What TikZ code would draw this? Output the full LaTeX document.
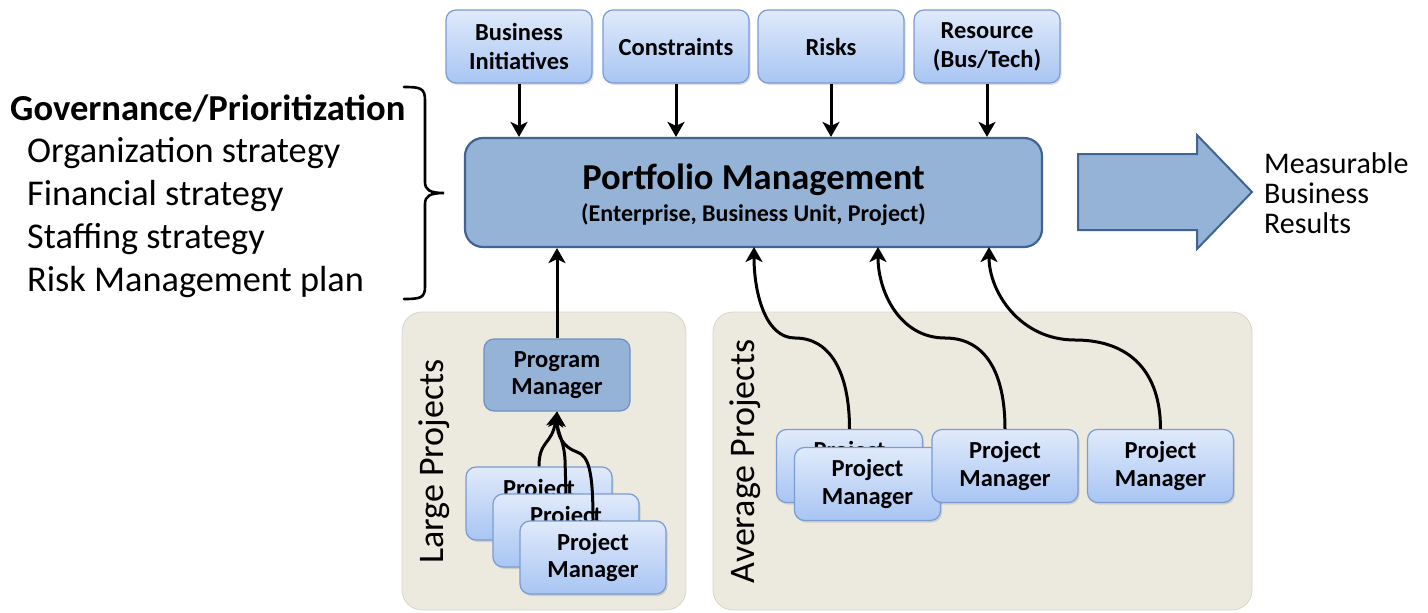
\documentclass[tikz,border=0pt]{standalone}
\usepackage{fontspec}
\setmainfont{Carlito}
\usetikzlibrary{arrows.meta,shadows}
\definecolor{pmfill}{HTML}{95B3D7}
\definecolor{pmborder}{HTML}{3F6393}
\definecolor{progborder}{HTML}{6F90C0}
\definecolor{boxtop}{HTML}{E0EAFB}
\definecolor{boxbot}{HTML}{A8C5F3}
\definecolor{boxborder}{HTML}{7A9CD3}
\definecolor{panel}{HTML}{ECE9DF}
\definecolor{panelborder}{HTML}{D8D5CC}
\begin{document}
\begin{tikzpicture}[x=1pt,y=-1pt,
  lightbox/.style={draw=boxborder, line width=1.2pt, rounded corners=10pt,
    top color=boxtop, bottom color=boxbot, minimum width=146pt, minimum height=73pt,
    align=center, font=\fontsize{24.5}{27.5}\selectfont\bfseries, inner sep=0pt,
    drop shadow={opacity=0.25, shadow xshift=1.5pt, shadow yshift=-2pt}},
  topbox/.style={lightbox, font=\fontsize{24.5}{29}\selectfont\bfseries},
  progbox/.style={draw=progborder, line width=1.2pt, rounded corners=10pt, fill=pmfill,
    minimum width=146pt, minimum height=72pt, align=center,
    font=\fontsize{24.5}{27.5}\selectfont\bfseries, inner sep=0pt},
  panelbox/.style={fill=panel, draw=panelborder, line width=0.8pt, rounded corners=20pt, inner sep=0pt},
  arr/.style={line width=3pt, -{Stealth[length=15pt,width=17pt,inset=4pt]}},
  braceline/.style={line width=2.6pt, line cap=round},
  lefttext/.style={anchor=west, inner sep=0pt, font=\fontsize{36.3}{43}\selectfont},
  sidelabel/.style={rotate=90, inner sep=0pt, font=\fontsize{36}{40}\selectfont}
]
\useasboundingbox (0,0) rectangle (1428,613);

% panels
\node[panelbox, minimum width=284pt, minimum height=298pt] (lp) at (544,461) {};
\node[panelbox, minimum width=539pt, minimum height=298pt] (ap) at (982.5,461) {};
\node[sidelabel] (lpl) at (434,461.5) {Large Projects};
\node[sidelabel] (apl) at (745,461.5) {Average Projects};

% top boxes
\node[topbox] (bi) at (519,46.5) {Business\\Initiatives};
\node[topbox] (co) at (676,46.5) {Constraints};
\node[topbox] (ri) at (831,46.5) {Risks};
\node[topbox] (re) at (987,46.5) {Resource\\(Bus/Tech)};

% portfolio management
\node[draw=pmborder, line width=2.2pt, fill=pmfill, rounded corners=18pt,
  minimum width=577pt, minimum height=109pt, inner sep=0pt] (pm) at (753.5,192.5) {};
\node[font=\fontsize{36.5}{42}\selectfont\bfseries, inner sep=0pt] (pmt) at (753.5,180) {Portfolio Management};
\node[font=\fontsize{24}{28}\selectfont\bfseries, inner sep=0pt] (pms) at (753.5,215) {(Enterprise, Business Unit, Project)};

\foreach \n in {bi,co,ri,re}{
  \draw[arr] (\n.south) -- (\n.south |- pm.north);
}

% big arrow
\draw[fill=pmfill, draw=pmborder, line width=2pt, line join=miter]
  (1078,154) -- (1197,154) -- (1197,135) -- (1252,192) -- (1197,249) -- (1197,230) -- (1078,230) -- cycle;
\node[anchor=west, align=left, inner sep=0pt, font=\fontsize{30}{30}\selectfont] (mbr) at (1264,193) {Measurable\\Business\\Results};

% left text and brace
\node[lefttext, font=\fontsize{36.6}{43}\selectfont\bfseries] (gov) at (10,108) {Governance/Prioritization};
\node[lefttext] (l1) at (27,153) {Organization strategy};
\node[lefttext] (l2) at (27,196) {Financial strategy};
\node[lefttext] (l3) at (27,239) {Staffing strategy};
\node[lefttext] (l4) at (27,282) {Risk Management plan};
\draw[braceline] (404,87) .. controls (420,87) and (425,88) .. (425,100) -- (425,182)
  .. controls (425,190) and (430,193) .. (444,193)
  .. controls (430,193) and (425,196) .. (425,204) -- (425,287)
  .. controls (425,298) and (420,299) .. (404,299);

% large projects
\node[progbox] (prog) at (557,375) {Program\\Manager};
\draw[arr] (prog.north) -- (prog.north |- pm.south);
\node[lightbox] (lpm1) at (539,503.5) {Project\\Manager};
\node[lightbox] (lpm2) at (566,530.5) {Project\\Manager};
\node[lightbox] (lpm3) at (593,557.5) {Project\\Manager};
\draw[arr] (lpm1.north) .. controls (539,440) and (552,445) .. (prog.south);
\draw[arr] (lpm2.north) -- (565,460) .. controls (564,440) and (557,432) .. (prog.south);
\draw[arr] (lpm3.north) .. controls (593,472) and (589,456) .. (577,452) .. controls (563,447) and (557,436) .. (prog.south);

% average projects
\node[lightbox] (apm1) at (849.5,466) {Project\\Manager};
\node[lightbox] (apm2) at (867.5,484) {Project\\Manager};
\node[lightbox] (apm3) at (1005,466) {Project\\Manager};
\node[lightbox] (apm4) at (1160.5,466) {Project\\Manager};
\coordinate (t1) at (754,247);
\coordinate (t2) at (878,247);
\coordinate (t3) at (989,247);
\draw[arr] (apm1.north) .. controls (849.5,372) and (830,338) .. (795,338) .. controls (765,338) and (754,292) .. (t1);
\draw[arr] (apm3.north) .. controls (1005,372) and (985,338) .. (945,338) .. controls (900,338) and (878,292) .. (t2);
\draw[arr] (apm4.north) .. controls (1160.5,372) and (1130,340) .. (1075,340) .. controls (1020,340) and (989,292) .. (t3);
\end{tikzpicture}
\end{document}
